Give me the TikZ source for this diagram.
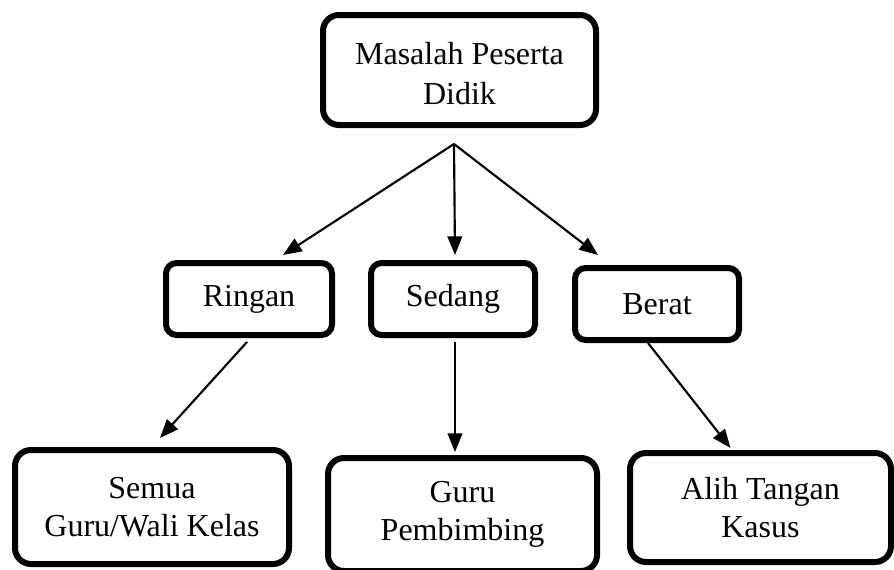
\documentclass[tikz,border=0pt]{standalone}
\usepackage{fontspec}
\setmainfont{Liberation Serif}
\usepackage{tikz}
\usetikzlibrary{arrows.meta,calc}

\begin{document}
\begin{tikzpicture}[x=0.75pt,y=-0.75pt,
    kotak/.style={draw, line width=4.5pt, rounded corners=8pt, align=center,
      inner sep=0pt, font=\fontsize{24}{29}\selectfont},
    panah/.style={line width=1.6pt, -{Triangle[length=14pt,width=11pt]}}]
  \clip (0,0) rectangle (894,569);
  \node [kotak, rounded corners=12pt, minimum width=204.75pt, minimum height=82.5pt] (AA) at (459.5, 70) {\raisebox{-9pt}[0pt][0pt]{\parbox{200pt}{\centering Masalah Peserta\\[1pt] Didik}}};
  \node [kotak, minimum width=124.5pt, minimum height=54pt] (BA) at (249, 299) {Ringan};
  \node [kotak, minimum width=123pt, minimum height=54pt] (BB) at (453, 299) {Sedang};
  \node [kotak, minimum width=123pt, minimum height=54pt] (BC) at (657, 304) {Berat};
  \node [kotak, rounded corners=12pt, minimum width=205.5pt, minimum height=85.5pt] (CA) at (152, 507) {Semua\\ Guru/Wali Kelas};
  \node [kotak, rounded corners=12pt, minimum width=201.75pt, minimum height=84.75pt] (CB) at (462.5, 514.5) {Guru\\ Pembimbing};
  \node [kotak, rounded corners=12pt, minimum width=195.75pt, minimum height=81.75pt] (CC) at (760.5, 507.5) {Alih Tangan\\ Kasus};
  \coordinate (pecah) at (454, 144);
  \draw [panah] (pecah) -- ($(BA.north)+(34,-5)$);
  \draw [panah] (pecah) -- ($(BB.north)+(2,-5)$);
  \draw [panah] (pecah) -- ($(BC.north)+(-59,-10)$);
  \draw [panah] ($(BA.south)+(-2,4)$) -- ($(CA.north)+(8,-9)$);
  \draw [panah] ($(BB.south)+(2,4)$) -- ($(CB.north)+(-7.5,-3)$);
  \draw [panah] ($(BC.south)+(-9,0)$) -- ($(CC.north)+(-30,-2)$);
\end{tikzpicture}
\end{document}
